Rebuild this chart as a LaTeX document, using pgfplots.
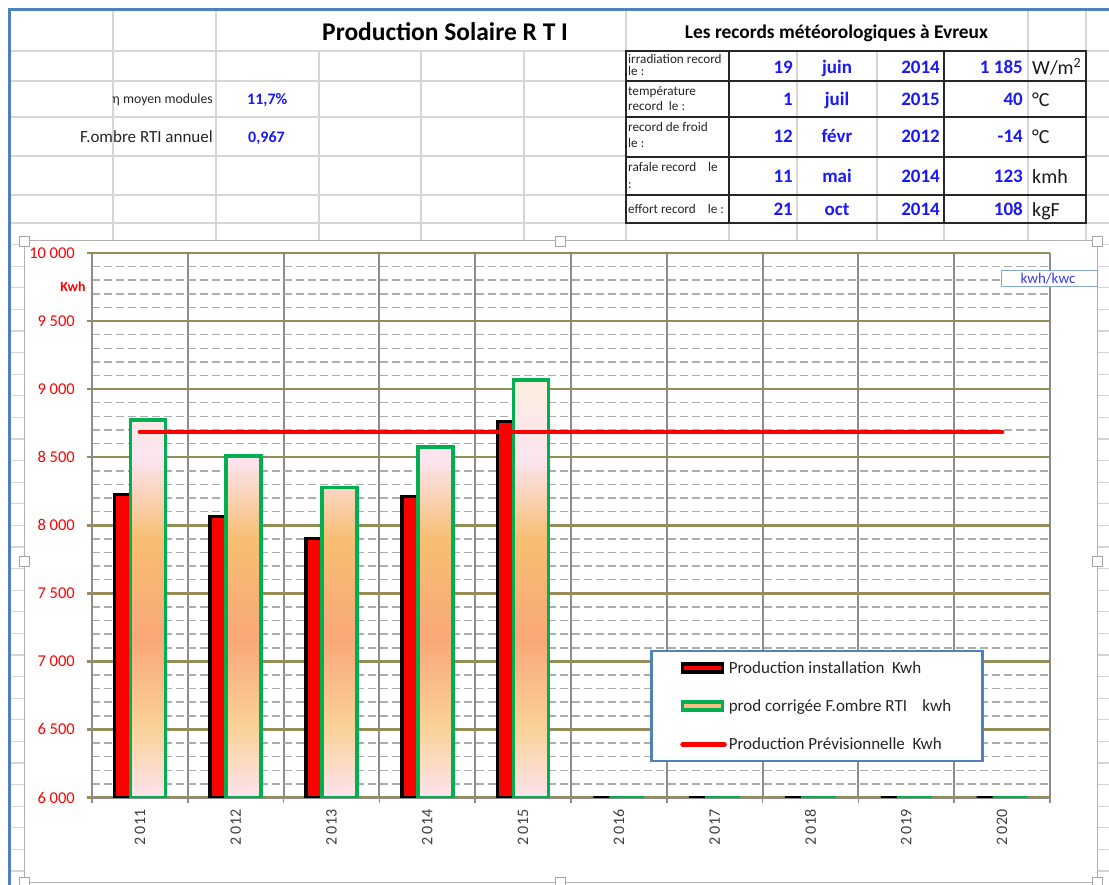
\documentclass[border=0pt]{standalone}
\usepackage{pgfplots}
\pgfplotsset{compat=1.18}
\usepackage{fontspec}
\setmainfont{Carlito}
\definecolor{xlblue}{RGB}{79,129,189}
\definecolor{cellgrid}{RGB}{214,214,214}
\definecolor{olivegrid}{RGB}{150,140,88}
\definecolor{dashgrey}{RGB}{172,172,172}
\definecolor{vgrid}{RGB}{140,140,140}
\definecolor{numblue}{RGB}{25,25,250}
\definecolor{xlgreen}{RGB}{0,176,80}
\definecolor{xlred}{RGB}{255,0,0}
\definecolor{gA}{RGB}{253,227,239}
\definecolor{gB}{RGB}{250,211,154}
\definecolor{gC}{RGB}{249,168,119}
\definecolor{gD}{RGB}{247,190,114}
\definecolor{gE}{RGB}{252,228,240}
\definecolor{gF}{RGB}{251,238,223}
\definecolor{legorange}{RGB}{248,190,130}
\pgfdeclareverticalshading{corrbar}{100bp}{color(0bp)=(gA); color(25bp)=(gA); color(33bp)=(gB); color(44bp)=(gC); color(56bp)=(gD); color(65.5bp)=(gE); color(75bp)=(gF); color(100bp)=(gF)}
\newcommand{\fs}[1]{\fontsize{#1}{#1}\selectfont}
\begin{document}
\begin{tikzpicture}
\useasboundingbox (0,0) rectangle (1109pt,-885pt);
\begin{scope}[x=1pt,y=-1pt]
\fill[white] (0,0) rectangle (1109,885);
% spreadsheet cell grid
\begin{scope}[cellgrid, line width=1.2pt]
\foreach \y in {51,81,117,156,195,223} \draw (9,\y) -- (626,\y);
\foreach \y in {51,81,117,156,195,223} \draw (1086,\y) -- (1109,\y);
\foreach \x in {113,216} \draw (\x,10) -- (\x,241);
\foreach \x in {319,421,524} \draw (\x,51) -- (\x,241);
\draw (626,10) -- (626,241);
\draw (1028,10) -- (1028,51);
\draw (1086,10) -- (1086,51);
\foreach \x in {729,797,877,944,1028,1086} \draw (\x,223) -- (\x,241);
\foreach \k in {1,...,31} \draw (9,223+21.6*\k) -- (1109,223+21.6*\k);
\end{scope}
% records table
\begin{scope}[line width=1.2pt]
\foreach \x in {797,877,1028} \draw[cellgrid] (\x,51) -- (\x,223);
\draw[black!85] (626,51) rectangle (1086,223);
\foreach \y in {81,117,157,195} \draw[black!85] (626,\y) -- (1086,\y);
\foreach \x in {729,944} \draw[black!85] (\x,51) -- (\x,223);
\end{scope}
% blue sheet borders
\draw[xlblue, line width=3pt] (9,885) -- (9,10) -- (1109,10);
% titles
\node[anchor=base west, inner sep=0pt, font=\bfseries\fs{25.5}] at (322,41) {Production Solaire R T I};
\node[anchor=base, inner sep=0pt, font=\bfseries\fs{19.4}] at (836.5,38.5) {Les records météorologiques à Evreux};
% left info
\node[anchor=base east, inner sep=0pt, font=\fs{13.8}, text=black!85] at (213,104) {η moyen modules};
\node[anchor=base west, inner sep=0pt, font=\bfseries\fs{16}, text=numblue] at (247,105) {11,7\%};
\node[anchor=base east, inner sep=0pt, font=\fs{17}, text=black!85] at (213,143) {F.ombre RTI annuel};
\node[anchor=base west, inner sep=0pt, font=\bfseries\fs{16}, text=numblue] at (248,143) {0,967};
% table labels
\begin{scope}[every node/.style={anchor=base west, inner sep=0pt, font=\fs{13.2}, text=black!85}]
\node at (628,64) {irradiation record};
\node at (628,76) {le :};
\node at (628,96) {température};
\node at (628,111) {record\ \ le :};
\node at (628,132) {record de froid};
\node at (628,148) {le :};
\node at (628,172) {rafale record\ \ \ \ le};
\node at (628,189) {:};
\node at (628,214) {effort record\ \ \ \ le :};
\end{scope}
\begin{scope}[every node/.style={inner sep=0pt, font=\bfseries\fs{19}, text=numblue}]
\foreach \yb/\d/\m/\a/\v in {74/19/juin/2014/1 185, 106/1/juil/2015/40, 143/12/févr/2012/-14, 183/11/mai/2014/123, 216/21/oct/2014/108}{
  \node[anchor=base east] at (793,\yb) {\d};
  \node[anchor=base] at (837,\yb) {\m};
  \node[anchor=base east] at (940,\yb) {\a};
  \node[anchor=base east] at (1023,\yb) {\v};
}
\end{scope}
\begin{scope}[every node/.style={anchor=base west, inner sep=0pt, font=\fs{20}, text=black!90}]
\node at (1032,75) {W/m\textsuperscript{2}};
\node at (1032,107) {°C};
\node at (1032,144) {°C};
\node at (1032,184) {kmh};
\node at (1032,217) {kgF};
\end{scope}
% chart area
\draw[fill=white, draw=black!30, line width=1pt] (24,241) rectangle (1097,882);
\end{scope}

\begin{axis}[
  at={(92pt,-797.5pt)}, anchor=south west,
  scale only axis, width=958pt, height=544.5pt,
  xmin=-0.5, xmax=9.5, ymin=0, ymax=4000,
  y filter/.expression={y-6000},
  clip=true,
  axis x line*=bottom, axis y line*=left,
  axis line style={draw=vgrid, line width=2pt},
  tick align=outside,
  major tick length=5pt, minor tick length=5pt,
  xtick={0,...,9},
  xticklabels={2\ 011,2\ 012,2\ 013,2\ 014,2\ 015,2\ 016,2\ 017,2\ 018,2\ 019,2\ 020},
  major x tick style={draw=none},
  minor xtick={-0.5,0.5,...,9.5},
  xminorgrids,
  minor x grid style={vgrid, line width=2pt},
  minor x tick style={vgrid, line width=1.5pt},
  xticklabel style={rotate=90, anchor=east, font=\fs{16}, text=black!75, inner sep=0pt, xshift=-7pt},
  ytick={0,500,...,4000},
  yticklabels={6 000,6 500,7 000,7 500,8 000,8 500,9 000,9 500,10 000},
  ymajorgrids,
  major y grid style={olivegrid, line width=2.5pt},
  major y tick style={olivegrid, line width=2.5pt},
  minor ytick={100,200,300,400,600,700,800,900,1100,1200,1300,1400,1600,1700,1800,1900,2100,2200,2300,2400,2600,2700,2800,2900,3100,3200,3300,3400,3600,3700,3800,3900},
  yminorgrids,
  minor y grid style={dashgrey, line width=1.5pt, dash pattern=on 8pt off 4pt},
  minor y tick style={draw=none},
  yticklabel style={anchor=east, font=\fs{16.5}, text=xlred, inner sep=0pt, xshift=-12pt},
  legend style={at={(0.5825,0.271)}, anchor=north west, draw=xlblue, line width=2.5pt, fill=white,
    font=\fs{17}, text=black!85, inner xsep=29pt, inner ysep=8pt, row sep=21pt},
  legend cell align=left,
]
\addlegendimage{legend image code/.code={\draw[fill=xlred, draw=black, line width=3.5pt] (0pt,-4pt) rectangle (40pt,4pt);}}
\addlegendentry{Production installation\ \ Kwh}
\addlegendimage{legend image code/.code={\draw[fill=legorange, draw=xlgreen, line width=3.5pt] (0pt,-4pt) rectangle (40pt,4pt);}}
\addlegendentry{prod corrigée F.ombre RTI\ \ \ \ kwh}
\addlegendimage{legend image code/.code={\draw[xlred, line width=4.5pt, line cap=round] (0pt,0pt) -- (42pt,0pt);}}
\addlegendentry{Production Prévisionnelle\ \ Kwh}

% Production installation Kwh
\addplot[ybar, bar width=35pt, bar shift=-8pt, fill=xlred, draw=black, line width=3.5pt, forget plot]
  coordinates {(0,8227) (1,8063) (2,7903) (3,8210) (4,8761) (5,6000) (6,6000) (7,6000) (8,6000) (9,6000)};
% prod corrigee F.ombre RTI kwh
\addplot[ybar, bar width=35pt, bar shift=8pt, draw=xlgreen, line width=3.5pt, shading=corrbar, shade, forget plot]
  coordinates {(0,8773) (1,8509) (2,8277) (3,8575) (4,9067)};
\addplot[ybar, bar width=35pt, bar shift=8pt, draw=xlgreen, line width=3.5pt, fill=none, forget plot]
  coordinates {(5,6000) (6,6000) (7,6000) (8,6000) (9,6000)};
% Production previsionnelle Kwh
\addplot[xlred, line width=4.5pt, line cap=round, forget plot]
  coordinates {(0,8685) (1,8685) (2,8685) (3,8685) (4,8685) (5,8685) (6,8685) (7,8685) (8,8685) (9,8685)};
\end{axis}

\begin{scope}[x=1pt,y=-1pt]
\node[inner sep=0pt, font=\bfseries\fs{14}, text=xlred] at (73,287) {Kwh};
\draw[fill=white, draw=xlblue!70, line width=1pt] (1001,271) rectangle (1097,287);
\node[inner sep=0pt, font=\fs{15}, text=numblue!85] at (1048,279) {kwh/kwc};
\foreach \p in {(24,241),(560,241),(1097,241),(24,561),(1097,561),(24,882),(560,882),(1097,882)}
  \draw[fill=white, draw=black!35, line width=0.8pt] \p +(-5,-5) rectangle +(5,5);
\end{scope}
\end{tikzpicture}
\end{document}
